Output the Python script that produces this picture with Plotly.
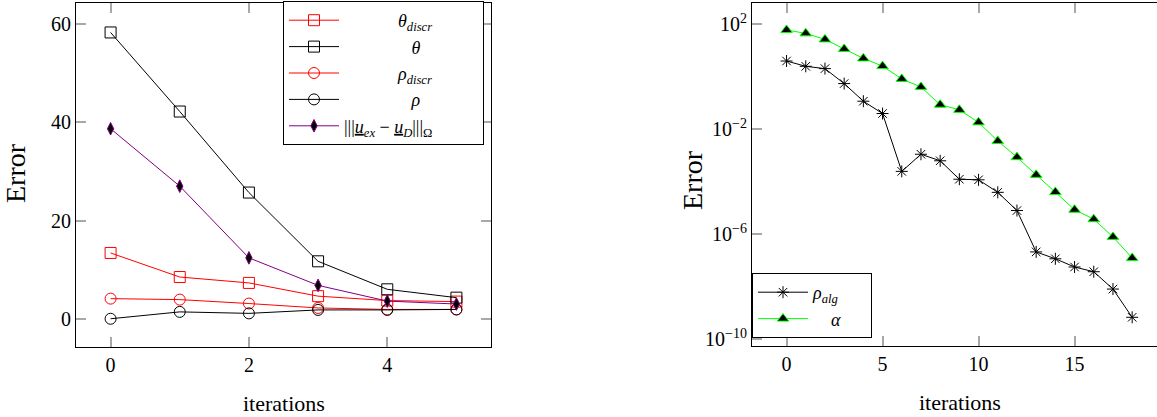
import plotly.graph_objects as go

# left panel: error vs. iterations
iters_left = [0, 1, 2, 3, 4, 5]
theta_discr = [13.4, 8.5, 7.3, 4.6, 3.7, 3.5]
theta = [58.3, 42.2, 25.7, 11.7, 6.0, 4.3]
rho_discr = [4.1, 3.9, 3.1, 2.2, 1.9, 1.9]
rho = [0.0, 1.4, 1.1, 1.8, 1.8, 1.9]
u_err = [38.7, 27.0, 12.4, 6.8, 3.6, 3.0]

# right panel: log error vs. iterations
iters_right = list(range(19))
rho_alg = [3.9, 2.45, 2.0, 5.4e-1, 1.15e-1, 3.9e-2, 2.45e-4, 1.1e-3, 6.2e-4, 1.23e-4,
           1.17e-4, 3.9e-5, 7.9e-6, 2.1e-7, 1.15e-7, 5.6e-8, 3.7e-8, 8.1e-9, 6.8e-10]
alpha = [59, 44, 26, 11.2, 4.9, 2.5, 0.81, 0.40, 8.5e-2, 5.4e-2,
         1.8e-2, 3.5e-3, 8.5e-4, 1.8e-4, 4.0e-5, 8.5e-6, 3.7e-6, 7.8e-7, 1.23e-7]

left_yticks = [0, 20, 40, 60]
right_yticks = [1e2, 1e-2, 1e-6, 1e-10]
right_yticktext = ["10<sup>2</sup>", "10<sup>−2</sup>", "10<sup>−6</sup>", "10<sup>−10</sup>"]

FONT = "Liberation Serif"
W, H = 1157, 417
PAD = "\u00a0"

fig = go.Figure()

def left_trace(y, name, color, symbol, fill=None, size=11):
    fig.add_trace(go.Scatter(
        x=iters_left, y=y, name=name, mode="lines+markers",
        line=dict(color=color, width=1),
        marker=dict(symbol=symbol, size=size, color=fill or color,
                    line=dict(color=color, width=1)),
        xaxis="x", yaxis="y", legend="legend"))

left_trace(theta_discr, PAD * 12 + "<i>θ</i><sub><i>discr</i></sub>", "#ff0000", "square-open")
left_trace(theta, PAD * 15 + "<i>θ</i>", "#000000", "square-open")
left_trace(rho_discr, PAD * 12 + "<i>ρ</i><sub><i>discr</i></sub>", "#ff0000", "circle-open")
left_trace(rho, PAD * 15 + "<i>ρ</i>", "#000000", "circle-open")
left_trace(u_err, "|||<i><u>u</u></i><sub><i>ex</i></sub>" + PAD + "−" + PAD
           + "<i><u>u</u></i><sub><i>D</i></sub>|||<sub>Ω</sub>" + PAD * 10,
           "#800080", "diamond-tall", fill="#000000", size=9)

fig.add_trace(go.Scatter(
    x=iters_right, y=rho_alg, name="<i>ρ</i><sub><i>alg</i></sub>" + PAD * 6, mode="lines+markers",
    line=dict(color="#000000", width=1),
    marker=dict(symbol="asterisk-open", size=10, line=dict(color="#000000", width=1)),
    xaxis="x2", yaxis="y2", legend="legend2"))
fig.add_trace(go.Scatter(
    x=iters_right, y=alpha, name=PAD * 4 + "<i>α</i>", mode="lines+markers",
    line=dict(color="#00ff00", width=1),
    marker=dict(symbol="triangle-up", size=10, color="#000000", line=dict(color="#00ff00", width=1)),
    xaxis="x2", yaxis="y2", legend="legend2"))

axis_common = dict(showline=True, linecolor="black", linewidth=1, ticks="inside", ticklen=10,
                   tickcolor="#a8a8a8", tickwidth=1.5, showgrid=False, zeroline=False,
                   automargin=False,
                   tickfont=dict(family=FONT, size=20, color="black"))

fig.update_layout(
    width=W, height=H, margin=dict(l=0, r=0, t=0, b=0, autoexpand=False),
    plot_bgcolor="white", paper_bgcolor="white",
    font=dict(family=FONT, color="black"),
    xaxis=dict(domain=[76 / W, 491 / W], range=[-0.5, 5.5], tickvals=[0, 2, 4],
               mirror="ticks", anchor="y", **axis_common),
    yaxis=dict(domain=[1 - 347 / H, 1 - 3 / H], range=[-5.75, 64.3], tickvals=left_yticks,
               mirror="ticks", anchor="x", **axis_common),
    xaxis2=dict(domain=[752 / W, 1.0], range=[-1.8, -1.8 + (1157 - 752) / 19.2],
                tickvals=[0, 5, 10, 15], mirror="ticks", anchor="y2", **axis_common),
    yaxis2=dict(domain=[1 - 346 / H, 1 - 3 / H], type="log", range=[-10.26, 2.8],
                tickvals=right_yticks, ticktext=right_yticktext, mirror=False,
                anchor="x2", **axis_common),
    legend=dict(x=484 / W, y=1 - 1 / H, xanchor="right", yanchor="top",
                bgcolor="white", bordercolor="black", borderwidth=1,
                font=dict(family=FONT, size=18, color="black"), itemwidth=50,
                tracegroupgap=0),
    legend2=dict(x=752 / W, y=1 - 273 / H, xanchor="left", yanchor="top",
                 bgcolor="white", bordercolor="black", borderwidth=1,
                 font=dict(family=FONT, size=18, color="black"), itemwidth=50),
    showlegend=True,
)

for x, y, text, ang, size in [(15, 173, "Error", -90, 28), (284, 403, "iterations", 0, 22),
                              (692, 180, "Error", -90, 28), (960, 402, "iterations", 0, 22)]:
    fig.add_annotation(x=x / W, y=1 - y / H, xref="paper", yref="paper", text=text,
                       showarrow=False, textangle=ang, xanchor="center", yanchor="middle",
                       font=dict(family=FONT, size=size, color="black"))

fig.write_html("out.html", config={"displayModeBar": False},
               post_script="document.body.style.margin='0';")
